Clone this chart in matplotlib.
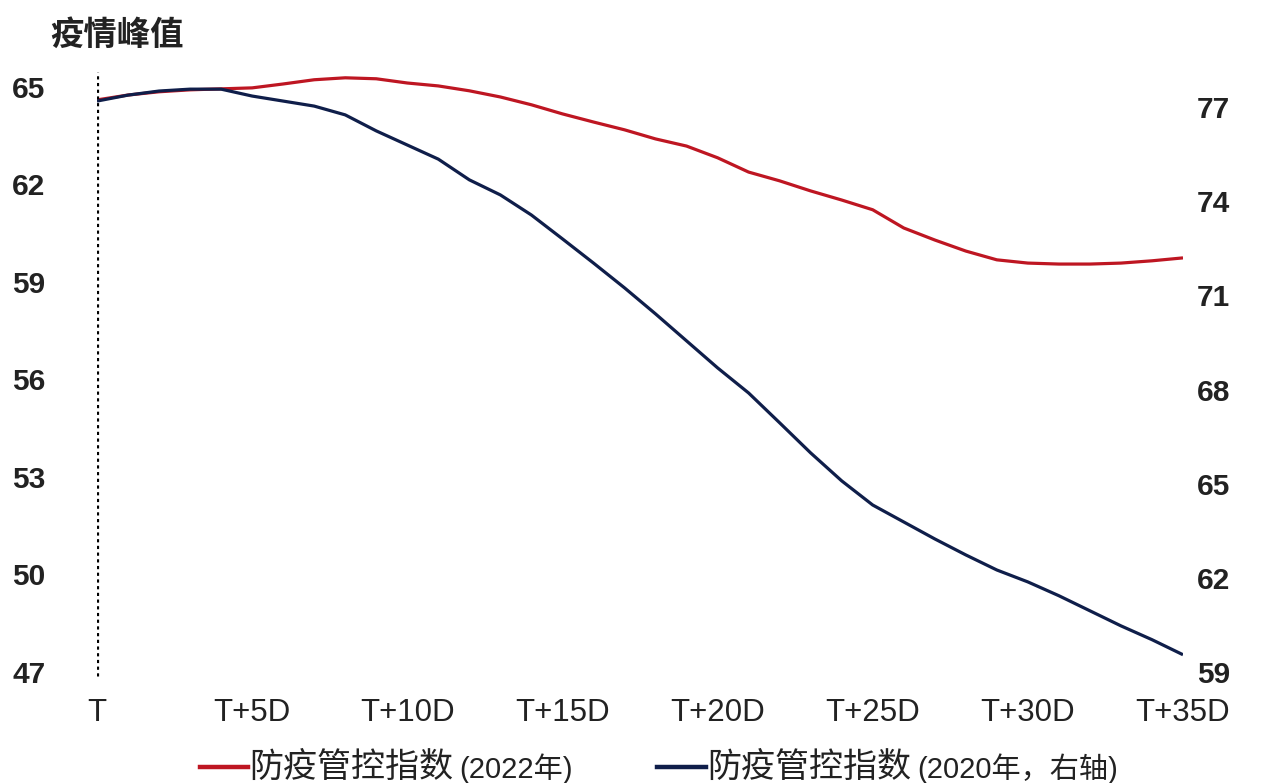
import matplotlib
matplotlib.use("Agg")
import matplotlib.pyplot as plt
from matplotlib.lines import Line2D

plt.rcParams['font.family'] = ['Liberation Sans', 'Noto Sans CJK SC', 'DejaVu Sans']

# データ（T からの日数）
days = list(range(36))
idx_2022 = [64.60, 64.75, 64.85, 64.91, 64.94, 64.97, 65.09, 65.22, 65.28, 65.25,
            65.12, 65.03, 64.88, 64.69, 64.45, 64.17, 63.92, 63.68, 63.40, 63.18,
            62.82, 62.38, 62.11, 61.80, 61.52, 61.22, 60.66, 60.29, 59.95, 59.68,
            59.58, 59.55, 59.55, 59.58, 59.65, 59.74]
idx_2020 = [77.19, 77.38, 77.51, 77.57, 77.57, 77.35, 77.19, 77.03, 76.75, 76.24,
            75.79, 75.34, 74.68, 74.20, 73.56, 72.80, 72.03, 71.24, 70.41, 69.55,
            68.69, 67.89, 66.94, 65.98, 65.09, 64.32, 63.78, 63.24, 62.73, 62.25,
            61.87, 61.43, 60.95, 60.47, 60.03, 59.55]
xticks = [0, 5, 10, 15, 20, 25, 30, 35]
xtick_labels = ["T", "T+5D", "T+10D", "T+15D", "T+20D", "T+25D", "T+30D", "T+35D"]
left_ticks = [47, 50, 53, 56, 59, 62, 65]
right_ticks = [59, 62, 65, 68, 71, 74, 77]

red = "#BE1622"
navy = "#0F1E4A"
txt = "#222222"

fig = plt.figure(figsize=(12.63, 7.83), dpi=100)
ax1 = fig.add_axes([97 / 1263, 1 - 680 / 783, (1183 - 97) / 1263, 610 / 783])
ax2 = ax1.twinx()

# 左軸：2022年
ax1.plot(days, idx_2022, color=red, lw=2.3, solid_capstyle="butt")
ax1.vlines(0, 46.88, 65.45, colors="black", linestyles=(0, (1, 1.1)), lw=2.3)
ax1.set_xlim(0, 35)
ax1.set_ylim(46.754, 65.52)
ax1.set_yticks(left_ticks)
ax1.set_yticklabels([str(v) for v in left_ticks], fontsize=21.5, fontweight="bold", color=txt)
ax1.set_xticks(xticks)
ax1.set_xticklabels(xtick_labels, fontsize=22.5, color=txt)
ax1.tick_params(axis="y", length=0, pad=37)
ax1.tick_params(axis="x", length=0, pad=13)

# 右軸：2020年
ax2.plot(days, idx_2020, color=navy, lw=2.3, solid_capstyle="butt")
ax2.set_ylim(58.745, 78.18)
ax2.set_yticks(right_ticks)
ax2.set_yticklabels([str(v) for v in right_ticks], fontsize=21.5, fontweight="bold", color=txt)
ax2.tick_params(axis="y", length=0, pad=10)

for a in (ax1, ax2):
    for s in a.spines.values():
        s.set_visible(False)

# タイトル
fig.text(50 / 1263, 1 - 35 / 783, "疫情峰值", fontsize=24, fontweight="bold",
         family="Noto Sans CJK SC", ha="left", va="center", color=txt)

# 凡例（手作り）
renderer = fig.canvas.get_renderer()
legend_items = [(200, 248, red, "(2022年)"), (657, 706, navy, "(2020年，右轴)")]
ly = 1 - 767 / 783
for x0, x1, c, small in legend_items:
    fig.add_artist(Line2D([x0 / 1263, x1 / 1263], [ly, ly], color=c, lw=3.2,
                          transform=fig.transFigure))
    t = fig.text(x1 / 1263 + 0.001, ly, "防疫管控指数", fontsize=24.5, fontweight="medium",
                 family="Noto Sans CJK SC", ha="left", va="center", color=txt)
    bb = t.get_window_extent(renderer)
    fig.text(bb.x1 / 1263 + 0.005, ly - 0.002, small, fontsize=21,
             family=["Liberation Sans", "Noto Sans CJK SC"], ha="left", va="center",
             color=txt)

fig.savefig("out.png", dpi=100)
plt.close()
